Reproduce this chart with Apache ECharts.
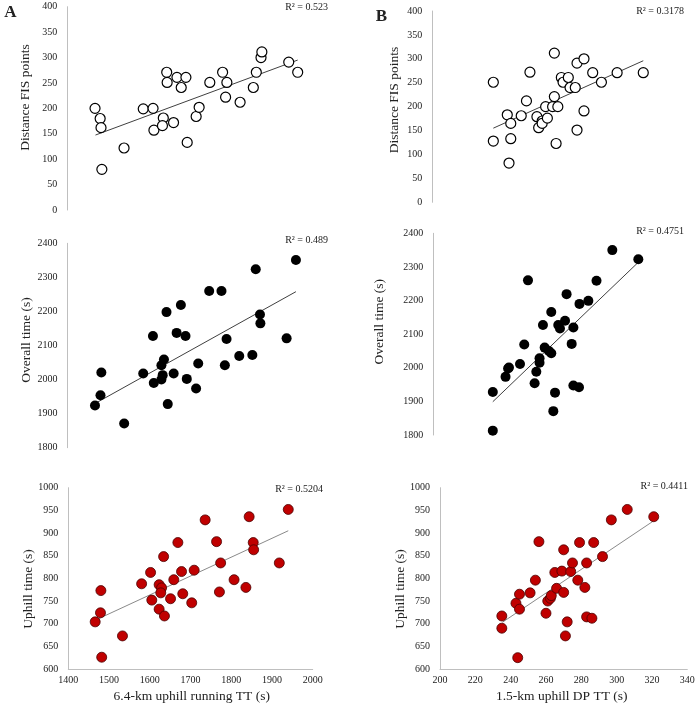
<!DOCTYPE html>
<html>
<head>
<meta charset="utf-8">
<script src="https://cdn.jsdelivr.net/npm/echarts@6/dist/echarts.min.js"></script>
<style>html,body{margin:0;padding:0;background:#fff;}#c{width:698px;height:707px;}</style>
</head>
<body>
<div id="c"></div>
<script>
// ---- Data ----
// Panel A: 6.4-km uphill running TT (s)
var runFisX = [1465,1477,1479,1481,1533,1578,1601,1603,1625,1623,1633,1634,1649,1657,1667,1678,1681,1702,1709,1734,1764,1771,1774,1805,1836,1843,1854,1856,1919,1940];
var runFisY = [200,180,162,80,122,199,200,157,181,166,271,251,172,261,241,261,133,184,202,251,271,222,251,212,241,271,300,311,291,271];
var runFisTrendX = [1466,1940];
var runFisTrendY = [147.5,295];

var runOverallX = [1465,1478,1480,1534,1579,1602,1604,1622,1625,1622,1628,1634,1637,1651,1658,1668,1679,1682,1704,1709,1735,1764,1772,1776,1806,1837,1845,1855,1856,1918,1940];
var runOverallY = [1924,1954,2021,1871,2018,2128,1990,2000,2013,2042,2059,2198,1928,2018,2137,2219,2128,2002,1974,2047,2260,2260,2042,2119,2069,2072,2324,2191,2165,2121,2351];
var runOverallTrendX = [1467,1940];
var runOverallTrendY = [1931,2258];

var runUphillX = [1466,1480,1479,1482,1533,1580,1602,1605,1623,1629,1627,1623,1634,1636,1651,1659,1669,1678,1681,1703,1709,1736,1764,1771,1774,1807,1836,1844,1854,1855,1918,1940];
var runUphillY = [704,773,724,626,673,788,813,752,786,779,768,732,848,717,755,797,879,815,766,746,818,929,881,770,834,797,780,936,879,863,834,952];
var runUphillTrendX = [1467,1940];
var runUphillTrendY = [708,905];

// Panel B: 1.5-km uphill DP TT (s)
var dpFisX = [235,235,243,244,245,245,251,254,256,260,261,263,263,265,266,269,270,270,271,272,274,275,278,279,282,283,283,287,287,292,297,306,321];
var dpFisY = [251,128,183,82,165,133,181,212,272,179,156,170,165,200,176,200,312,221,123,200,261,251,261,240,240,151,291,191,300,271,251,271,271];
var dpFisTrendX = [235,321];
var dpFisTrendY = [155,296];

var dpOverallX = [235,235,242.5,244.5,244,251,253.5,255.7,259.6,260.6,262.5,262.5,264.5,265.5,268,269.4,269.4,270.6,271.6,273.5,274.5,277.5,278.4,281.4,282.4,282.4,285.7,286,291.2,296,305.3,320.6];
var dpOverallY = [1928,1813,1973,2001,1998,2011,2069,2260,1954,1988,2028,2015,2127,2060,2050,2043,2166,1871,1926,2127,2117,2140,2219,2071,2120,1947,1942,2190,2199,2259,2350,2323];
var dpOverallTrendX = [235,320];
var dpOverallTrendY = [1899,2311];

var dpUphillX = [235,235,243,244,245,245,251,254,256,260,261,262.5,263,265,266,269,270,270,271,272,274,275,278,279,282,283,283,286,287,292,297,306,321];
var dpUphillY = [717,690,745,625,765,732,768,796,881,723,750,756,762,813,778,816,863,769,673,704,815,834,796,879,780,834,715,712,879,848,929,952,936];
var dpUphillTrendX = [235.3,321];
var dpUphillTrendY = [703,927];

// Text
var panelLetters = ['A','B'];
var r2Labels = ['R² = 0.523','R² = 0.489','R² = 0.5204','R² = 0.3178','R² = 0.4751','R² = 0.4411'];
var yTitles = ['Distance FIS points','Overall time (s)','Uphill time (s)','Distance FIS points','Overall time (s)','Uphill time (s)'];
var xTitles = ['6.4-km uphill running TT (s)','1.5-km uphill DP TT (s)'];

// ---- Build chart ----
function pairs(xs, ys){ return xs.map(function(x,i){ return [x, ys[i]]; }); }
var FONT = '"Liberation Serif","Times New Roman",serif';
var AX = '#bfbfbf';
function plain(v){ return String(v); }

var panels = [
  {grid:{left:67.3, top:6.7, width:256, height:203.3}, xr:[1400,2000,100], yr:[0,400,50], showX:false,
   xs:runFisX, ys:runFisY, tx:runFisTrendX, ty:runFisTrendY, kind:'open'},
  {grid:{left:67.5, top:243.3, width:253.8, height:204.4}, xr:[1400,2000,100], yr:[1800,2400,100], showX:false,
   xs:runOverallX, ys:runOverallY, tx:runOverallTrendX, ty:runOverallTrendY, kind:'black'},
  {grid:{left:68.3, top:487.7, width:244.4, height:181.3}, xr:[1400,2000,100], yr:[600,1000,50], showX:true,
   xs:runUphillX, ys:runUphillY, tx:runUphillTrendX, ty:runUphillTrendY, kind:'red'},
  {grid:{left:432.3, top:11, width:244.1, height:191.3}, xr:[200,340,20], yr:[0,400,50], showX:false,
   xs:dpFisX, ys:dpFisY, tx:dpFisTrendX, ty:dpFisTrendY, kind:'open'},
  {grid:{left:433.3, top:233.3, width:238, height:201.7}, xr:[200,340,20], yr:[1800,2400,100], showX:false,
   xs:dpOverallX, ys:dpOverallY, tx:dpOverallTrendX, ty:dpOverallTrendY, kind:'black'},
  {grid:{left:440, top:487.7, width:247.3, height:181.3}, xr:[200,340,20], yr:[600,1000,50], showX:true,
   xs:dpUphillX, ys:dpUphillY, tx:dpUphillTrendX, ty:dpUphillTrendY, kind:'red'}
];

var grids=[], xAxes=[], yAxes=[], series=[];
panels.forEach(function(p, i){
  grids.push(p.grid);
  xAxes.push({
    type:'value', gridIndex:i, min:p.xr[0], max:p.xr[1], interval:p.xr[2], show:p.showX,
    axisLine:{show:true, onZero:false, lineStyle:{color:AX, width:1}},
    axisTick:{show:false}, splitLine:{show:false},
    axisLabel:{fontFamily:FONT, fontSize:10, color:'#222', margin:6, formatter:plain}
  });
  yAxes.push({
    type:'value', gridIndex:i, min:p.yr[0], max:p.yr[1], interval:p.yr[2],
    axisLine:{show:true, lineStyle:{color:AX, width:1}},
    axisTick:{show:false}, splitLine:{show:false},
    axisLabel:{fontFamily:FONT, fontSize:10, color:'#222', margin:10, formatter:plain}
  });
  var item;
  if (p.kind==='open') item = {color:'#ffffff', borderColor:'#000000', borderWidth:1.2, opacity:1};
  else if (p.kind==='black') item = {color:'#000000', opacity:1};
  else item = {color:'#c00000', borderColor:'#4a0000', borderWidth:0.8, opacity:1};
  series.push({
    type:'line', xAxisIndex:i, yAxisIndex:i, data:pairs(p.tx, p.ty), symbol:'none', silent:true,
    lineStyle:{color: p.kind==='red' ? '#8a8a8a' : '#404040', width:1}, z:1
  });
  series.push({
    type:'scatter', xAxisIndex:i, yAxisIndex:i, data:pairs(p.xs, p.ys), symbol:'circle', symbolSize:10,
    itemStyle:item, z:2
  });
});

var graphics = [];
function txt(s, x, y, font, align, rot){
  graphics.push({type:'text', x:x, y:y, rotation:rot||0,
    style:{text:s, font:font, fill:'#222', align:align||'center', verticalAlign:'middle'}});
}
txt(panelLetters[0], 10.5, 13, 'bold 17px ' + FONT);
txt(panelLetters[1], 381.5, 17, 'bold 17px ' + FONT);
var r2Pos = [[328,7],[328,240.7],[323,489],[684,11.7],[684,231.7],[688,486.7]];
r2Labels.forEach(function(s,i){ txt(s, r2Pos[i][0], r2Pos[i][1], '10px ' + FONT, 'right'); });
var yTitlePos = [[25,97.5],[26,340],[28,589],[394,100],[379,321.7],[400.7,589]];
yTitles.forEach(function(s,i){ txt(s, yTitlePos[i][0], yTitlePos[i][1], '13.5px ' + FONT, 'center', Math.PI/2); });
txt(xTitles[0], 191.7, 696, '13.5px ' + FONT);
txt(xTitles[1], 561.7, 696, '13.5px ' + FONT);

var chart = echarts.init(document.getElementById('c'), null, {renderer:'canvas'});
chart.setOption({
  animation:false,
  backgroundColor:'#ffffff',
  grid:grids, xAxis:xAxes, yAxis:yAxes, series:series, graphic:graphics
});
</script>
</body>
</html>
